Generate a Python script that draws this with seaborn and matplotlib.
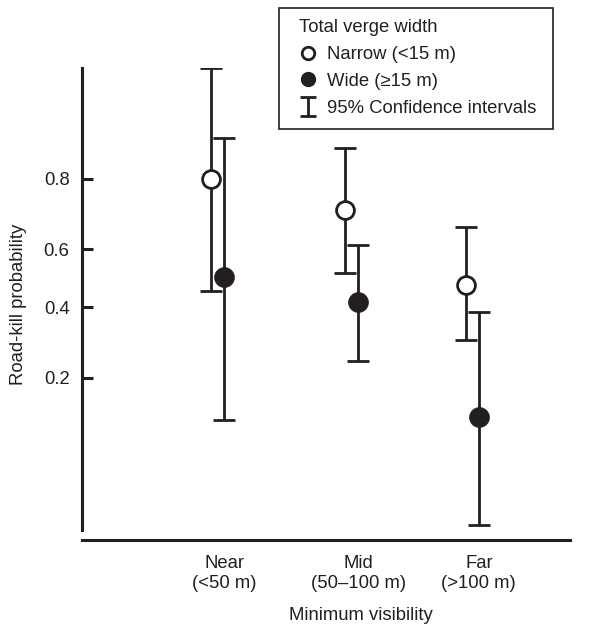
import numpy as np
import matplotlib
matplotlib.use('Agg')
import matplotlib.pyplot as plt
import seaborn as sns
from matplotlib.lines import Line2D
from matplotlib.patches import Rectangle
from matplotlib.ticker import FixedLocator, FuncFormatter, NullLocator, NullFormatter

# data (probabilities, logit axis)
categories = ['Near\n(<50 m)', 'Mid\n(50\u2013100 m)', 'Far\n(>100 m)']
cat_pos = [1.0, 2.0, 2.9]
narrow_offset = -0.095

narrow_mean = [0.798, 0.720, 0.477]
narrow_lo = [0.456, 0.518, 0.296]
narrow_hi = [0.949, 0.860, 0.670]

wide_mean = [0.505, 0.419, 0.127]
wide_lo = [0.122, 0.240, 0.031]
wide_hi = [0.876, 0.613, 0.385]

y_ticks = [0.2, 0.4, 0.6, 0.8]

INK = '#231f20'
FS = 13.3

sns.set_style('ticks')
plt.rcParams['font.family'] = ['Liberation Sans', 'DejaVu Sans']
plt.rcParams.update({'font.size': FS, 'text.color': INK,
                     'axes.labelcolor': INK, 'xtick.color': INK, 'ytick.color': INK})

fig = plt.figure(figsize=(6.14, 6.26), dpi=100)
ax = fig.add_axes([0.1336, 0.1374, 0.7948, 0.754])
ax.set_yscale('logit')

x_n = np.array(cat_pos) + narrow_offset
x_w = np.array(cat_pos)
nm, wm = np.array(narrow_mean), np.array(wide_mean)

err_kw = dict(fmt='none', ecolor=INK, elinewidth=2.0, capsize=8, capthick=2.0)
ax.errorbar(x_n, nm, yerr=[nm - np.array(narrow_lo), np.array(narrow_hi) - nm], zorder=2, **err_kw)
ax.errorbar(x_w, wm, yerr=[wm - np.array(wide_lo), np.array(wide_hi) - wm], zorder=2, **err_kw)

sns.scatterplot(x=x_n, y=nm, ax=ax, marker='o', s=165, color='white',
                edgecolor=INK, linewidth=2.0, zorder=4, legend=False)
sns.scatterplot(x=x_w, y=wm, ax=ax, marker='o', s=205, color=INK,
                edgecolor=INK, linewidth=0.5, zorder=4, legend=False)

ax.set_ylim(0.02548, 0.9491)
ax.set_xlim(-0.06, 3.58)

ax.yaxis.set_major_locator(FixedLocator(y_ticks))
ax.yaxis.set_major_formatter(FuncFormatter(lambda v, p: f'{v:.1f}'))
ax.yaxis.set_minor_locator(NullLocator())
ax.yaxis.set_minor_formatter(NullFormatter())
ax.tick_params(axis='y', direction='in', length=8, width=2.2, pad=9, labelsize=FS)

ax.set_xticks(cat_pos)
ax.set_xticklabels(categories)
ax.tick_params(axis='x', length=0, pad=11, labelsize=FS)

sns.despine(ax=ax)
for side in ['left', 'bottom']:
    ax.spines[side].set_linewidth(2.2)
    ax.spines[side].set_color(INK)
ax.spines['left'].set_bounds(0.0292, 0.9491)

ax.set_ylabel('Road-kill probability', fontsize=FS, labelpad=12)
ax.set_xlabel('Minimum visibility', fontsize=FS, labelpad=11)
ax.xaxis.label.set_x(0.572)

# legend (dummy errorbar off the axes gives the capped "I" handle)
ci_handle = ax.errorbar([10], [0.5], yerr=[[0.1], [0.1]], fmt='none', ecolor=INK,
                        elinewidth=2.0, capsize=5.5, capthick=2.0)
handles = [
    Line2D([], [], linestyle='none', marker='o', markersize=9, markerfacecolor='white',
           markeredgecolor=INK, markeredgewidth=2.0),
    Line2D([], [], linestyle='none', marker='o', markersize=10, markerfacecolor=INK,
           markeredgecolor=INK),
    ci_handle,
]
labels = ['Narrow (<15 m)', 'Wide (\u226515 m)', '95% Confidence intervals']
leg = fig.legend(handles, labels, title='Total verge width', loc='upper left',
                 bbox_to_anchor=(299 / 614, 1 - 19 / 626), bbox_transform=fig.transFigure,
                 frameon=False, fontsize=FS, title_fontsize=FS, handlelength=1.0,
                 handletextpad=0.5, labelspacing=0.54, borderpad=0, borderaxespad=0,
                 alignment='left')
fig.add_artist(Rectangle((279 / 614, 1 - 129 / 626), 274 / 614, 121 / 626,
                         transform=fig.transFigure, fill=False, edgecolor=INK, linewidth=1.2))

fig.savefig('out.png', dpi=100)
